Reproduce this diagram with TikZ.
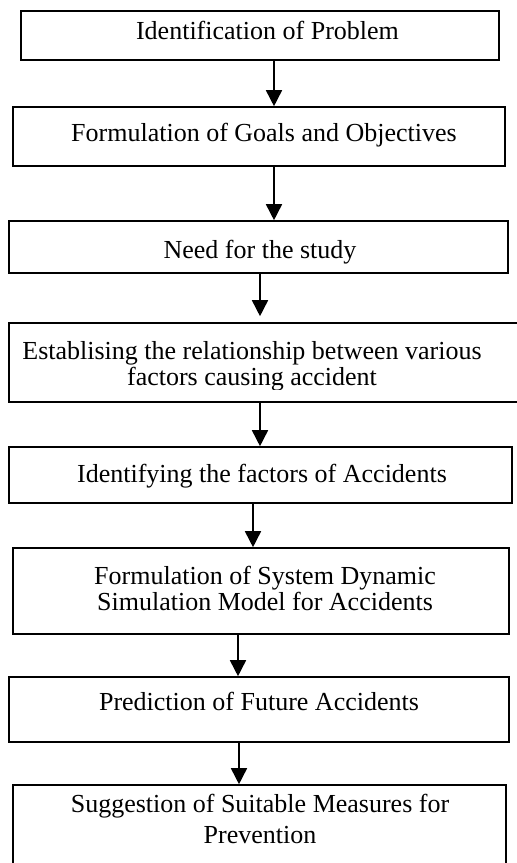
\documentclass[tikz,border=0pt]{standalone}
\usepackage{fontspec}
\setmainfont{Liberation Serif}
\usetikzlibrary{arrows.meta}

\tikzset{
  box/.style={draw, line width=1.6pt, inner sep=0pt},
  txt/.style={font=\fontsize{26}{26}\selectfont, inner sep=0pt, align=center, anchor=base},
  arr/.style={-{Triangle[width=16pt,length=16pt]}, line width=1.6pt}
}

\begin{document}
\begin{tikzpicture}[x=1pt, y=-1pt]
    \useasboundingbox (0,0) rectangle (517,863);

    % 1. Các hộp
    \node[box, minimum width=478pt, minimum height=49pt] (b1) at (260,35.5) {};
    \node[box, minimum width=492pt, minimum height=59pt] (b2) at (259,136.5) {};
    \node[box, minimum width=499pt, minimum height=52pt] (b3) at (258.5,247) {};
    \node[box, minimum width=522pt, minimum height=79pt] (b4) at (270,362.5) {};
    \node[box, minimum width=503pt, minimum height=56pt] (b5) at (260.5,475) {};
    \node[box, minimum width=496pt, minimum height=86pt] (b6) at (261,591) {};
    \node[box, minimum width=500pt, minimum height=65pt] (b7) at (259,709.5) {};
    \node[box, minimum width=493pt, minimum height=95pt] (b8) at (259.5,832.5) {};

    % 2. Chữ trong hộp (base = dòng cuối)
    \node[txt] (t1) at (267.5,39.5) {Identification of Problem};
    \node[txt] (t2) at (264,141.5) {Formulation of Goals and Objectives};
    \node[txt] (t3) at (260,258) {Need for the study};
    \begin{scope}
        \clip (0,320) rectangle (517,389);
        \node[txt] (t4) at (252,385) {Establising the relationship between various\\factors causing accident};
    \end{scope}
    \node[txt] (t5) at (262,482) {Identifying the factors of Accidents};
    \node[txt] (t6) at (265,610) {Formulation of System Dynamic\\Simulation Model for Accidents};
    \node[txt] (t7) at (259,710.5) {Prediction of Future Accidents};
    \node[txt] (t8) at (260,843) {Suggestion of Suitable Measures for\\[5pt]Prevention};

    % 3. Mũi tên
    \draw[arr] (b1.south -| 274,0) -- (b2.north -| 274,0);
    \draw[arr] (b2.south -| 274,0) -- (b3.north -| 274,0);
    \draw[arr, shorten >=6pt] (b3.south -| 260,0) -- (b4.north -| 260,0);
    \draw[arr] (b4.south -| 260,0) -- (b5.north -| 260,0);
    \draw[arr] (b5.south -| 253,0) -- (b6.north -| 253,0);
    \draw[arr] (b6.south -| 238,0) -- (b7.north -| 238,0);
    \draw[arr] (b7.south -| 239,0) -- (b8.north -| 239,0);

\end{tikzpicture}
\end{document}
